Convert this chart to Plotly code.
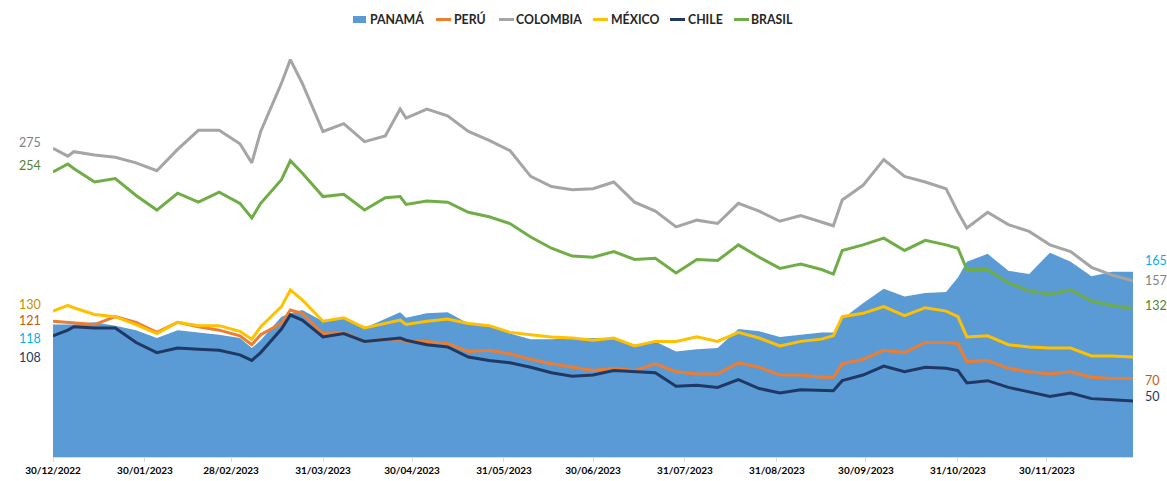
import plotly.graph_objects as go

dates = ["2022-12-30","2023-01-04","2023-01-06","2023-01-13","2023-01-20","2023-01-27","2023-02-03","2023-02-10",
         "2023-02-17","2023-02-24","2023-03-03","2023-03-07","2023-03-10","2023-03-17","2023-03-20","2023-03-24",
         "2023-03-31","2023-04-07","2023-04-14","2023-04-21","2023-04-26","2023-04-28","2023-05-05","2023-05-12",
         "2023-05-19","2023-05-26","2023-06-02","2023-06-09","2023-06-16","2023-06-23","2023-06-30","2023-07-07",
         "2023-07-14","2023-07-21","2023-07-28","2023-08-04","2023-08-11","2023-08-18","2023-08-25","2023-09-01",
         "2023-09-08","2023-09-15","2023-09-19","2023-09-22","2023-09-29","2023-10-06","2023-10-13","2023-10-20",
         "2023-10-27","2023-10-31","2023-11-03","2023-11-10","2023-11-17","2023-11-24","2023-12-01","2023-12-08",
         "2023-12-15","2023-12-22","2023-12-29"]

panama = [118,118,118,120,117,113,106,113,111,109,106,97,104,125,128,131,121,124,115,123,129,124,128,129,119,117,
          110,105,105,106,106,106,100,103,94,96,97,114,112,107,109,111,111,123,137,150,143,146,147,160,174,181,166,
          163,182,174,161,165,165]
peru = [121,120,119,118,125,120,111,120,116,113,108,100,109,119,131,128,110,111,103,105,105,103,103,101,94,95,92,
        87,83,80,77,79,77,83,76,74,74,84,80,73,73,71,71,83,87,95,93,102,102,101,85,86,79,76,74,76,71,70,70]
colombia = [275,268,272,269,267,262,255,274,291,291,279,262,290,333,354,333,290,297,281,286,310,302,310,304,290,
            282,273,250,241,238,239,245,227,219,205,211,208,226,219,210,215,209,206,229,242,265,250,245,239,218,
            204,218,207,201,189,183,169,162,157]
mexico = [130,135,133,127,125,118,110,120,117,117,112,105,116,134,149,140,121,124,115,119,122,118,121,123,119,117,
          111,109,107,106,104,106,99,103,103,107,103,111,106,99,103,105,108,125,128,134,126,133,130,125,107,108,
          100,98,97,97,90,90,89]
chile = [108,113,116,115,115,102,93,97,96,95,91,86,93,114,126.5,122,107,110,103,105,106,104,100,98,89,86,84,80,75,
         72,73,77,76,75,63,64,62,69,61,57,60,59,59,68,73,81,76,80,79,77,66,68,62,58,54,57,52,51,50]
brasil = [254,261,257,245,248,233,220,235,227,236,226,213,226,247,264,253,232,234,220,231,232,225,228,227,218,214,
          208,196,186,179,178,183,176,177,164,176,175,189,178,168,172,167,163,184,189,195,184,193,189,186,167,167,
          155,148,145,149,139,135,132]

tick_dates = ["2022-12-30","2023-01-30","2023-02-28","2023-03-31","2023-04-30","2023-05-31","2023-06-30",
              "2023-07-31","2023-08-31","2023-09-30","2023-10-31","2023-11-30"]
tick_labels = ["30/12/2022","30/01/2023","28/02/2023","31/03/2023","30/04/2023","31/05/2023","30/06/2023",
               "31/07/2023","31/08/2023","30/09/2023","31/10/2023","30/11/2023"]

FONT = "Lato"
W, H = 1167, 481
ML, MR, MT, MB = 53, 34, 8, 24
PW, PH = W - ML - MR, H - MT - MB


def px_x(px):
    return (px - ML) / PW


def px_y(py):
    return (H - MB - py) / PH


fig = go.Figure()
fig.add_trace(go.Scatter(x=dates, y=panama, name="PANAMÁ", mode="lines", fill="tozeroy",
                         fillcolor="#5B9BD5", line=dict(width=0, color="#5B9BD5")))
line_series = [("PERÚ", peru, "#ED7D31"), ("COLOMBIA", colombia, "#A5A5A5"), ("MÉXICO", mexico, "#FFC000"),
               ("CHILE", chile, "#203864"), ("BRASIL", brasil, "#70AD47")]
for name, vals, col in line_series:
    fig.add_trace(go.Scatter(x=dates, y=vals, name=name, mode="lines", line=dict(width=3, color=col)))

# custom legend (marker start px, text start px)
legend_items = [("PANAMÁ", "#5B9BD5", "box", 353, 368), ("PERÚ", "#ED7D31", "line", 436, 452),
                ("COLOMBIA", "#A5A5A5", "line", 499, 514), ("MÉXICO", "#FFC000", "line", 593, 609),
                ("CHILE", "#203864", "line", 670, 686), ("BRASIL", "#70AD47", "line", 734, 749)]
LY = 19.5
for name, col, kind, mx, tx in legend_items:
    if kind == "box":
        fig.add_shape(type="rect", xref="paper", yref="paper", x0=px_x(mx), x1=px_x(mx + 13),
                      y0=px_y(LY + 3.5), y1=px_y(LY - 3.5), fillcolor=col, line=dict(width=0))
    else:
        fig.add_shape(type="line", xref="paper", yref="paper", x0=px_x(mx), x1=px_x(mx + 15),
                      y0=px_y(LY), y1=px_y(LY), line=dict(color=col, width=3))
    fig.add_annotation(xref="paper", yref="paper", x=px_x(tx), y=px_y(LY), text=name, xanchor="left",
                       yanchor="middle", showarrow=False,
                       font=dict(family=FONT, size=12.3, color="#262626", weight="bold"))

# left labels (start values)
left = [(colombia, "#7F7F7F", 6), (brasil, "#548235", 6), (mexico, "#BF9000", 7),
        (peru, "#C55A11", 1), (panama, "#00B0F0", -14), (chile, "#203864", -22)]
for vals, col, ys in left:
    fig.add_annotation(x=dates[0], y=vals[0], text=f"{vals[0]:g}", xanchor="right", yanchor="middle",
                       xshift=-10, yshift=ys, showarrow=False, font=dict(family=FONT, size=12.5, color=col))
right = [(panama, "#00B0F0", 11), (colombia, "#7F7F7F", 0), (brasil, "#548235", 3),
         (peru, "#C55A11", -2), (chile, "#203864", 4)]
for vals, col, ys in right:
    fig.add_annotation(x=dates[-1], y=vals[-1], text=f"{vals[-1]:g}", xanchor="left", yanchor="middle",
                       xshift=10, yshift=ys, showarrow=False, font=dict(family=FONT, size=12.5, color=col))

fig.update_layout(
    width=W, height=H,
    margin=dict(l=ML, r=MR, t=MT, b=MB, autoexpand=False),
    plot_bgcolor="white", paper_bgcolor="white",
    showlegend=False,
    xaxis=dict(range=["2022-12-30", "2023-12-29"], tickvals=tick_dates, ticktext=tick_labels,
               showgrid=False, showline=True, linecolor="#D9D9D9", linewidth=1,
               ticks="outside", ticklen=4, tickcolor="#D9D9D9", automargin=False,
               tickfont=dict(family=FONT, size=10, color="#000000", weight="bold")),
    yaxis=dict(range=[0, 400], visible=False, showgrid=False),
)
fig.write_html("out.html", config={"displayModeBar": False},
               post_script="document.body.style.margin='0px';")
